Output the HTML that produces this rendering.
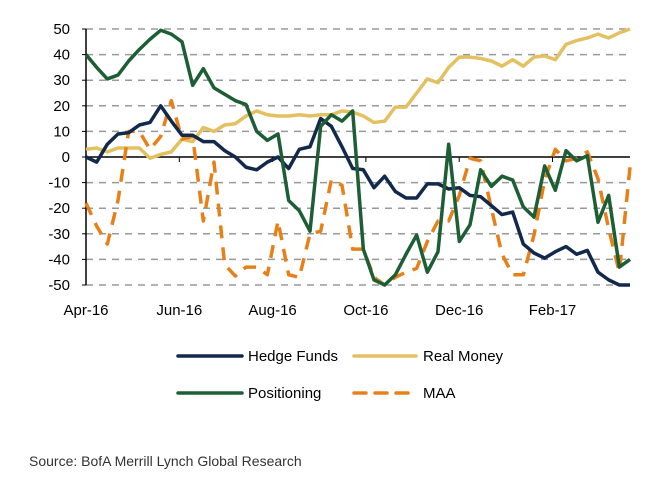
<!DOCTYPE html>
<html><head><meta charset="utf-8"><style>
body{margin:0;background:#fff;width:652px;height:476px;overflow:hidden;font-family:"Liberation Sans",Arial,sans-serif;}
</style></head><body>
<svg id="chart" width="652" height="476" viewBox="0 0 652 476" xmlns="http://www.w3.org/2000/svg" font-family="Liberation Sans, Arial, sans-serif">
<g id="grid"></g><g id="axes"></g><g id="series"></g>
<g font-size="15" fill="#000">
 <line x1="178" y1="356" x2="242" y2="356" stroke="#13294b" stroke-width="3.5" stroke-linecap="round"/>
 <text x="248" y="361">Hedge Funds</text>
 <line x1="354" y1="356" x2="416" y2="356" stroke="#e3c060" stroke-width="3.5" stroke-linecap="round"/>
 <text x="423" y="361">Real Money</text>
 <line x1="178" y1="393" x2="242" y2="393" stroke="#1d5e34" stroke-width="3.5" stroke-linecap="round"/>
 <text x="248" y="398">Positioning</text>
 <line x1="354" y1="393" x2="416" y2="393" stroke="#e8801a" stroke-width="3.5" stroke-dasharray="12,9" stroke-linecap="round"/>
 <text x="423" y="398">MAA</text>
</g>
<text x="29" y="466" font-size="14" fill="#333">Source: BofA Merrill Lynch Global Research</text>
</svg>
<script>
const yTicks=[50,40,30,20,10,0,-10,-20,-30,-40,-50];
const xLabels=["Apr-16","Jun-16","Aug-16","Oct-16","Dec-16","Feb-17"];
const hedgeFunds=[0,-2,5,9,9.5,12.5,13.5,20,14,8.5,8.5,6,6,2.5,0,-4,-5,-2,0,-4.5,3,4,15,12,4,-4.5,-5,-12,-7.5,-13.5,-16,-16,-10.5,-10.5,-12.5,-12,-15,-15.5,-19,-22.5,-21.5,-34,-37.5,-39.5,-37,-35,-38,-36.5,-45,-48,-50,-50];
const realMoney=[3,3.5,2,3.5,3.5,3.5,-0.5,1,2,7,6,11.5,10,12.5,13,16,18,16.5,16,16,16.5,16,16.5,16.5,18,17.5,16,13.5,14,19.5,19.5,25,30.5,29,35,39,39,38.5,37.5,35.5,38,35.5,39,39.5,38,44,45.5,46.5,48,46.5,48.5,50];
const positioning=[40,35,30.5,32,37.5,42,46,49.5,48,45,28,34.5,27,24.5,22,20.5,10,6.5,9,-17,-21,-29,12,16.5,14,18,-36,-48,-50,-46,-38,-30.5,-45,-37,5,-33,-26.5,-5,-11.5,-7.5,-9,-19.5,-23.5,-3.5,-13,2.5,-1.5,0.5,-25.5,-15,-43,-40];
const maa=[-18,-27,-34,-17,10,10,3,8,22,7,8,-25,-2,-42,-46.5,-43,-43,-46,-25,-46,-47,-30,-29,-9,-11,-36,-36,-47,-50,-47,-45,-43.5,-33,-25,-25,-15,-0.5,-1.5,-20,-38,-46,-46,-30.5,-9,3,-1.5,-0.5,2,-8.5,-28,-45,-4];
const NS="http://www.w3.org/2000/svg";
const X0=86,X1=630,Y0=157,YS=2.56;
const n=hedgeFunds.length;
const xs=i=>X0+i*(X1-X0)/(n-1);
const ys=v=>Y0-v*YS;
function mk(t,a,p){const e=document.createElementNS(NS,t);for(const k in a)e.setAttribute(k,a[k]);p.appendChild(e);return e;}
const grid=document.getElementById('grid'),axes=document.getElementById('axes'),ser=document.getElementById('series');
yTicks.forEach(v=>{
 if(v!==0){const l=mk('line',{x1:X0,x2:X1,y1:ys(v),y2:ys(v),stroke:'#999','stroke-width':1.5,'stroke-dasharray':'7,6'},grid);
 
 }
 const t=mk('text',{x:X0-16,y:ys(v)+5,'text-anchor':'end','font-size':15},axes);
 t.textContent=v;
 
 
 const tk=mk('line',{x1:X0-4,x2:X0,y1:ys(v),y2:ys(v),stroke:'#000','stroke-width':1},axes);
 
 
});
const ya=mk('line',{x1:X0,x2:X0,y1:ys(50),y2:ys(-50),stroke:'#000','stroke-width':1.5},axes);


const za=mk('line',{x1:X0,x2:X1,y1:Y0,y2:Y0,stroke:'#000','stroke-width':1.5},axes);


const monthW=93.3;
xLabels.forEach((s,i)=>{
 const x=X0+i*monthW;
 const tk=mk('line',{x1:x,x2:x,y1:Y0,y2:Y0+5,stroke:'#000','stroke-width':1},axes);
 
 
 const t=mk('text',{x:x,y:315,'text-anchor':'middle','font-size':15},axes);
 t.textContent=s;
 
 
});
function line(d,col,name,dash){
 const p=mk('polyline',{points:d.map((v,i)=>xs(i)+','+ys(v)).join(' '),fill:'none',stroke:col,'stroke-width':3.5,'stroke-linejoin':'round'},ser);
 if(dash)p.setAttribute('stroke-dasharray',dash);
 
 
}
line(realMoney,'#e3c060','real-money-line');
line(maa,'#e8801a','maa-line','13,9');
line(hedgeFunds,'#13294b','hedge-funds-line');
line(positioning,'#1d5e34','positioning-line');
</script>
</body></html>
